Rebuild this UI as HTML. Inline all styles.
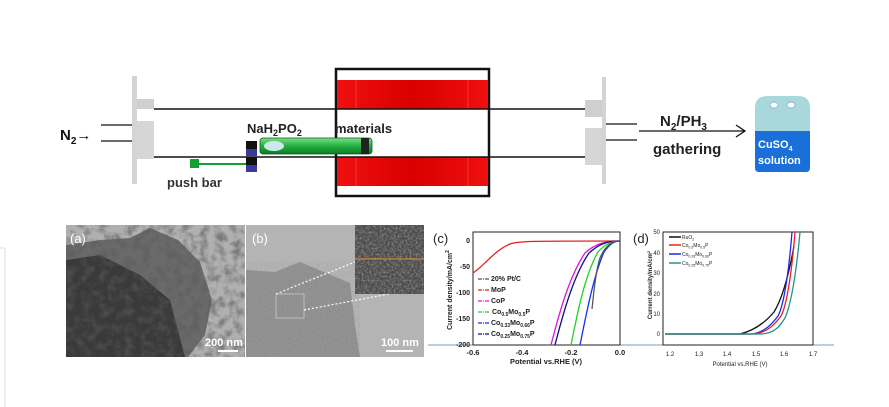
<!DOCTYPE html>
<html><head><meta charset="utf-8"><style>
html,body{margin:0;padding:0;background:#fff;}
svg{display:block;font-family:"Liberation Sans",Arial,sans-serif;}
</style></head><body>
<svg width="889" height="407" viewBox="0 0 889 407" xmlns="http://www.w3.org/2000/svg">
<defs>
<filter id="noise" x="0" y="0" width="100%" height="100%">
<feTurbulence type="fractalNoise" baseFrequency="0.45" numOctaves="2" seed="3"/>
<feColorMatrix type="matrix" values="0 0 0 0 0.35  0 0 0 0 0.35  0 0 0 0 0.35  0 0 0 -1.5 1.0"/>
</filter>
<filter id="noise2" x="0" y="0" width="100%" height="100%">
<feTurbulence type="fractalNoise" baseFrequency="0.12" numOctaves="3" seed="7"/>
<feColorMatrix type="matrix" values="0 0 0 0 0.1  0 0 0 0 0.1  0 0 0 0 0.1  0 0 0 -2.5 1.5"/>
</filter>
<filter id="noise3" x="0" y="0" width="100%" height="100%">
<feTurbulence type="fractalNoise" baseFrequency="0.5" numOctaves="2" seed="11"/>
<feColorMatrix type="matrix" values="0 0 0 0 0.85  0 0 0 0 0.85  0 0 0 0 0.85  0 0 0 -1.6 1.0"/>
</filter>
<linearGradient id="grn" x1="0" y1="0" x2="0" y2="1"><stop offset="0" stop-color="#7be08a"/><stop offset="0.5" stop-color="#22b040"/><stop offset="1" stop-color="#0c7a25"/></linearGradient>
<linearGradient id="red" x1="0" y1="0" x2="1" y2="0"><stop offset="0" stop-color="#f01010"/><stop offset="0.5" stop-color="#d80000"/><stop offset="1" stop-color="#f01010"/></linearGradient>
</defs>

<path d="M0 248 H5 V407" fill="none" stroke="#ddd"/>

<!-- furnace -->
<rect x="336" y="69" width="153" height="127" fill="#fff" stroke="#111" stroke-width="2.5"/>
<rect x="337" y="80" width="151" height="29" fill="url(#red)"/>
<rect x="337" y="157" width="151" height="29" fill="url(#red)"/>
<line x1="356" y1="80" x2="356" y2="109" stroke="#ff5a30" stroke-width="0.6"/>
<line x1="356" y1="157" x2="356" y2="186" stroke="#ff5a30" stroke-width="0.6"/>
<line x1="468" y1="80" x2="468" y2="109" stroke="#ff5a30" stroke-width="0.6"/>
<line x1="468" y1="157" x2="468" y2="186" stroke="#ff5a30" stroke-width="0.6"/>

<!-- tube -->
<line x1="154" y1="109" x2="586" y2="109" stroke="#111" stroke-width="1.5"/>
<line x1="154" y1="157" x2="586" y2="157" stroke="#111" stroke-width="1.5"/>

<!-- left flange -->
<rect x="132" y="76" width="5" height="108" fill="#d4d4d4"/>
<rect x="137" y="99" width="17" height="10" fill="#cfcfcf"/>
<rect x="137" y="121" width="17" height="38" fill="#d6d6d6"/>
<line x1="101" y1="125" x2="132" y2="125" stroke="#111" stroke-width="1.2"/>
<line x1="101" y1="141" x2="132" y2="141" stroke="#111" stroke-width="1.2"/>
<text x="60" y="140" font-size="15" font-weight="bold" fill="#111">N<tspan font-size="10" dy="4">2</tspan><tspan dy="-4">→</tspan></text>

<!-- right flange -->
<rect x="602" y="77" width="4" height="107" fill="#d4d4d4"/>
<rect x="585" y="100" width="17" height="17" fill="#cfcfcf"/>
<rect x="585" y="128" width="17" height="37" fill="#d6d6d6"/>
<line x1="606" y1="124" x2="637" y2="124" stroke="#111" stroke-width="1.2"/>
<line x1="606" y1="140" x2="637" y2="140" stroke="#111" stroke-width="1.2"/>
<line x1="639" y1="131" x2="744" y2="131" stroke="#111" stroke-width="1.3"/>
<path d="M736 125 L745 131 L736 137" fill="none" stroke="#111" stroke-width="1.3"/>
<text x="660" y="126" font-size="15" font-weight="bold" fill="#222">N<tspan font-size="10" dy="4">2</tspan><tspan dy="-4">/PH</tspan><tspan font-size="10" dy="4">3</tspan></text>
<text x="653" y="154" font-size="15" font-weight="bold" fill="#222">gathering</text>

<!-- bottle -->
<path d="M755 131 V108 Q755 96 768 96 H798 Q810 96 810 108 V131 Z" fill="#a8d8dc"/>
<ellipse cx="774" cy="105" rx="4" ry="3" fill="#fff" stroke="#7ab" stroke-width="0.7"/>
<ellipse cx="791" cy="105" rx="4" ry="3" fill="#fff" stroke="#7ab" stroke-width="0.7"/>
<path d="M755 131 H810 V168 Q810 172 806 172 H759 Q755 172 755 168 Z" fill="#1a6fd8"/>
<text x="758" y="148" font-size="11" font-weight="bold" fill="#fff">CuSO<tspan font-size="7" dy="3">4</tspan></text>
<text x="758" y="164" font-size="11" font-weight="bold" fill="#fff">solution</text>

<!-- boat/green tube -->
<rect x="260" y="138" width="112" height="16" rx="3" fill="url(#grn)" stroke="#0a5a1a" stroke-width="0.8"/>
<ellipse cx="274" cy="146" rx="10" ry="5" fill="#cde8ea"/>
<rect x="361" y="138" width="8" height="16" fill="#222"/>
<rect x="246" y="141" width="11" height="15" fill="#111"/>
<rect x="246" y="149" width="11" height="7" fill="#3a3a9a"/>
<rect x="246" y="157" width="11" height="15" fill="#111"/>
<rect x="246" y="165" width="11" height="7" fill="#3a3a9a"/>
<rect x="190" y="159" width="9" height="9" fill="#14a030"/>
<line x1="199" y1="164" x2="246" y2="164" stroke="#14a030" stroke-width="2"/>
<text x="247" y="133" font-size="13" font-weight="bold" fill="#222">NaH<tspan font-size="9" dy="3">2</tspan><tspan dy="-3">PO</tspan><tspan font-size="9" dy="3">2</tspan></text>
<text x="335" y="133" font-size="13" font-weight="bold" fill="#222">materials</text>
<text x="167" y="187" font-size="13" font-weight="bold" fill="#333">push bar</text>

<!-- TEM (a) -->
<rect x="66" y="225" width="179" height="132" fill="#b0b0b0"/>
<path d="M66 245 L100 240 L130 238 L150 228 L178 240 L200 262 L212 300 L205 335 L188 357 L66 357 Z" fill="#6a6a6a"/>
<path d="M66 260 L100 255 L140 275 L170 300 L185 357 L66 357 Z" fill="#3a3a3a"/>
<rect x="66" y="225" width="179" height="132" filter="url(#noise2)" opacity="0.6"/>
<text x="70" y="243" font-size="13" fill="#fff">(a)</text>
<text x="205" y="346" font-size="11" font-weight="bold" fill="#fff">200 nm</text>
<line x1="218" y1="351" x2="238" y2="351" stroke="#fff" stroke-width="2"/>

<!-- TEM (b) -->
<rect x="246" y="225" width="178" height="132" fill="#b4b4b4"/>
<path d="M246 270 L275 272 L300 262 L350 283 L355 325 L360 357 L246 357 Z" fill="#8e8e8e"/>
<rect x="246" y="262" width="114" height="95" filter="url(#noise)" opacity="0.6"/>
<text x="252" y="243" font-size="13" fill="#fff">(b)</text>
<rect x="276" y="294" width="28" height="24" fill="none" stroke="#ddd" stroke-width="0.6"/>
<line x1="276" y1="294" x2="355" y2="262" stroke="#fff" stroke-width="1.2" stroke-dasharray="2,2"/>
<line x1="304" y1="310" x2="389" y2="294" stroke="#fff" stroke-width="1.2" stroke-dasharray="2,2"/>
<rect x="355" y="225" width="69" height="69" fill="#4a4a4a"/>
<rect x="355" y="225" width="69" height="69" filter="url(#noise3)" opacity="0.5"/>
<line x1="355" y1="259" x2="424" y2="259" stroke="#e8902a" stroke-width="1"/>
<text x="381" y="346" font-size="11" font-weight="bold" fill="#fff">100 nm</text>
<line x1="386" y1="351" x2="413" y2="351" stroke="#fff" stroke-width="2"/>

<line x1="428" y1="345" x2="834" y2="345" stroke="#4a7ab0" stroke-width="0.8"/>

<!-- chart (c) -->
<text x="433" y="243" font-size="13" fill="#222">(c)</text>
<rect x="473" y="232" width="147" height="113" fill="none" stroke="#222" stroke-width="1"/>
<g font-size="7" font-weight="bold" fill="#222" text-anchor="end">
<text x="470" y="243">0</text><text x="470" y="269">-50</text><text x="470" y="295">-100</text><text x="470" y="321">-150</text><text x="470" y="347">-200</text>
</g>
<g font-size="7.5" font-weight="bold" fill="#222" text-anchor="middle">
<text x="473" y="355">-0.6</text><text x="522" y="355">-0.4</text><text x="571" y="355">-0.2</text><text x="620" y="355">0.0</text>
</g>
<text x="546" y="364" font-size="7.5" font-weight="bold" fill="#222" text-anchor="middle">Potential vs.RHE (V)</text>
<text transform="translate(452,290) rotate(-90)" font-size="7" font-weight="bold" fill="#222" text-anchor="middle">Current density/mA/cm<tspan font-size="5" dy="-3">2</tspan></text>
<g fill="none" stroke-width="1.3">
<path d="M473 273 C485 265 495 250 510 244 C518 241 530 241 620 241" stroke="#e82020"/>
<path d="M551 345 C560 310 570 275 585 253 C595 244 605 241 620 241" stroke="#e010e0"/>
<path d="M555 345 C564 310 574 275 589 253 C599 244 607 241 620 241" stroke="#101080"/>
<path d="M571 345 C578 310 585 275 598 252 C605 244 612 241 620 241" stroke="#20d020"/>
<path d="M580 345 C587 310 594 275 604 252 C610 244 614 241 620 241" stroke="#1030f0"/>
<path d="M592 309 C594 290 596 270 600 258 C605 246 612 241 620 241" stroke="#555"/>
</g>
<g font-size="7" font-weight="bold" fill="#222">
<line x1="478" y1="279" x2="490" y2="279" stroke="#555" stroke-width="1.3" stroke-dasharray="4,1,1,1"/><text x="491" y="281">20% Pt/C</text>
<line x1="478" y1="290" x2="490" y2="290" stroke="#e82020" stroke-width="1.3" stroke-dasharray="4,1,1,1"/><text x="491" y="292">MoP</text>
<line x1="478" y1="301" x2="490" y2="301" stroke="#e010e0" stroke-width="1.3" stroke-dasharray="4,1,1,1"/><text x="491" y="303">CoP</text>
<line x1="478" y1="312" x2="490" y2="312" stroke="#20d020" stroke-width="1.3" stroke-dasharray="4,1,1,1"/><text x="492" y="314">Co<tspan font-size="5" dy="2">0.5</tspan><tspan dy="-2">Mo</tspan><tspan font-size="5" dy="2">0.5</tspan><tspan dy="-2">P</tspan></text>
<line x1="478" y1="323" x2="490" y2="323" stroke="#1030f0" stroke-width="1.3" stroke-dasharray="4,1,1,1"/><text x="491" y="325">Co<tspan font-size="5" dy="2">0.33</tspan><tspan dy="-2">Mo</tspan><tspan font-size="5" dy="2">0.66</tspan><tspan dy="-2">P</tspan></text>
<line x1="478" y1="334" x2="490" y2="334" stroke="#101080" stroke-width="1.3" stroke-dasharray="4,1,1,1"/><text x="491" y="336">Co<tspan font-size="5" dy="2">0.25</tspan><tspan dy="-2">Mo</tspan><tspan font-size="5" dy="2">0.75</tspan><tspan dy="-2">P</tspan></text>
</g>

<!-- chart (d) -->
<text x="633" y="243" font-size="13" fill="#222">(d)</text>
<rect x="663" y="232" width="150" height="113" fill="none" stroke="#222" stroke-width="1"/>
<g font-size="6" fill="#222" text-anchor="end">
<text x="660" y="234">50</text><text x="660" y="255">40</text><text x="660" y="275">30</text><text x="660" y="296">20</text><text x="660" y="316">10</text><text x="660" y="336">0</text>
</g>
<g font-size="6" fill="#222" text-anchor="middle">
<text x="670" y="356">1.2</text><text x="699" y="356">1.3</text><text x="727" y="356">1.4</text><text x="756" y="356">1.5</text><text x="784" y="356">1.6</text><text x="813" y="356">1.7</text>
</g>
<text x="740" y="366" font-size="6" fill="#222" text-anchor="middle">Potential vs.RHE (V)</text>
<text transform="translate(652,285) rotate(-90)" font-size="6" font-weight="bold" fill="#222" text-anchor="middle">Current density/mA/cm<tspan font-size="4" dy="-2">2</tspan></text>
<g fill="none" stroke-width="1.3">
<path d="M665 334 L740 334 C752 331 764 324 774 312 C784 296 790 268 794 246" stroke="#111"/>
<path d="M665 334 L752 334 C765 332 772 324 778 316 C784 305 789 270 792 232" stroke="#1a2af0"/>
<path d="M665 334 L755 334 C768 332 775 324 781 316 C787 305 792 270 795 232" stroke="#e82020"/>
<path d="M665 334 L762 334 C775 333 780 326 785 318 C792 302 797 265 800 232" stroke="#20958a"/>
</g>
<g font-size="5" fill="#222">
<line x1="669" y1="237" x2="681" y2="237" stroke="#111" stroke-width="1.5"/><text x="682" y="239">RuO<tspan font-size="3.5" dy="1.5">2</tspan></text>
<line x1="669" y1="245" x2="681" y2="245" stroke="#e82020" stroke-width="1.5"/><text x="682" y="247">Co<tspan font-size="3.5" dy="1.5">0.5</tspan><tspan dy="-1.5">Mo</tspan><tspan font-size="3.5" dy="1.5">0.5</tspan><tspan dy="-1.5">P</tspan></text>
<line x1="669" y1="254" x2="681" y2="254" stroke="#1a2af0" stroke-width="1.5"/><text x="682" y="256">Co<tspan font-size="3.5" dy="1.5">0.33</tspan><tspan dy="-1.5">Mo</tspan><tspan font-size="3.5" dy="1.5">0.66</tspan><tspan dy="-1.5">P</tspan></text>
<line x1="669" y1="263" x2="681" y2="263" stroke="#20958a" stroke-width="1.5"/><text x="682" y="265">Co<tspan font-size="3.5" dy="1.5">0.25</tspan><tspan dy="-1.5">Mo</tspan><tspan font-size="3.5" dy="1.5">0.75</tspan><tspan dy="-1.5">P</tspan></text>
</g>
</svg>
</body></html>
